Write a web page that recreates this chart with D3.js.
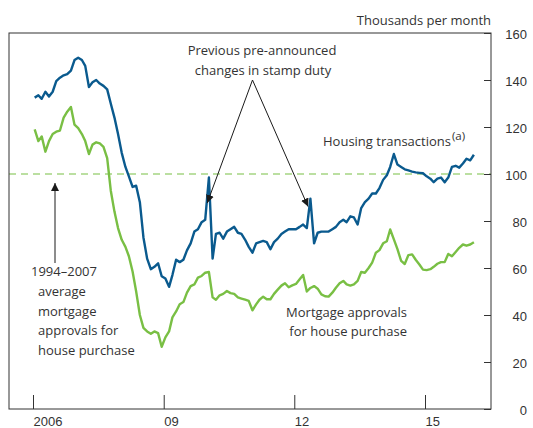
<!DOCTYPE html>
<html>
<head>
<meta charset="utf-8">
<script src="https://cdn.jsdelivr.net/npm/d3@7"></script>
<style>
  body { margin: 0; background: #fff; }
  svg { display: block; font-family: 'Open Sans', sans-serif; }
  text { fill: #333; }
</style>
</head>
<body>
<div id="app"></div>
<script>
// monthly series, Jan 2006 onwards (thousands per month)
const housingTransactions = [
  132.5, 133.5, 132, 135, 133, 135, 139.5, 141, 142, 142.5, 144, 148.5,
  149.5, 148.5, 146, 137, 139, 140, 138.5, 137.5, 136, 130, 124, 117,
  109, 103, 99, 94.5, 95, 88, 73, 64, 59.5, 60.5, 62, 56.5,
  55.5, 52, 57, 63.5, 62.5, 63.5, 67.5, 70.5, 75.5, 76.5, 79.5, 80.5,
  98.5, 64, 74.5, 75, 72.5, 75.5, 76.5, 77.5, 75, 74.5, 72, 69,
  66.5, 70.5, 71, 71.5, 71, 68, 71, 72.5, 74.5, 75.5, 76.5, 76.5,
  76.5, 77.5, 78.5, 77, 89.5, 70.5, 75, 75.5, 75.5, 75.5, 76.5, 77.5,
  79.5, 80.5, 79.5, 82, 81.5, 78.5, 85.5, 88, 89.5, 91.7, 91.7, 94,
  97.5, 99.5, 103, 108.5, 104, 103, 102, 101.5, 101, 100.7, 100.5, 100.3,
  99, 98, 96.5, 98, 98.5, 96.5, 98.5, 103, 103.5, 102.7, 104.5, 106.5,
  105.8, 108.2
];

const mortgageApprovals = [
  119, 114, 116, 109.5, 114, 117, 118, 118.5, 124, 126.5, 128.5, 121,
  119.5, 117, 114, 108.5, 112.5, 113.5, 113, 111.5, 106.8, 93, 84, 77,
  72, 69, 65, 58.5, 50, 40, 34.5, 33, 32, 33, 32.3, 26.5,
  30.5, 33, 39, 41.5, 44.6, 45.5, 49.5, 52.3, 53, 55.9, 56.6, 58,
  58.3, 47.5, 46.5, 48.4, 49, 50.2, 49.3, 49, 47.5, 47, 46.5, 46,
  42, 44.5, 46.5, 47.8, 46.7, 46.7, 49, 50.8, 52.5, 53.5, 51.8, 52.6,
  53.2, 55.2, 57, 50, 51.5, 52.3, 51.2, 48.8, 48, 47.8, 49.5, 51.6,
  53.5, 54.5, 53, 52.5, 53, 54.5, 58.3, 58, 60, 62.3, 66.5, 67.6,
  70.5, 71.4, 76.4, 72.2, 68, 63, 61.7, 65.5, 65.8, 63.5, 61.5, 59.3,
  59.1, 59.5, 60.5, 61.8, 62.5, 62.5, 66, 65, 66.8, 68.6, 70, 69.5,
  70, 71
];

const averageApprovals = 100; // 1994-2007 average
const yearTicks = [2006, 2009, 2012, 2015];
const yearLabels = ['2006', '09', '12', '15'];
const valueTicks = [0, 20, 40, 60, 80, 100, 120, 140, 160];

const width = 533;
const height = 428;
const plotL = 9, plotR = 491, plotT = 33, plotB = 409;

const blue = '#0a5a8e';
const green = '#79bf44';

const svg = d3.select('#app').append('svg')
  .attr('width', width)
  .attr('height', height);

const x = d3.scaleTime()
  .domain([new Date(2006, 0, 1), new Date(2015, 0, 1)])
  .range([33, 425]);

const y = d3.scaleLinear()
  .domain([0, 160])
  .range([plotB, plotT]);

const toPoints = arr => arr.map((v, i) => ({ date: new Date(2006, i, 15), value: v }));

const line = d3.line()
  .x(d => x(d.date))
  .y(d => y(d.value));

// arrow head
svg.append('defs').append('marker')
  .attr('id', 'head')
  .attr('viewBox', '0 0 10 10')
  .attr('refX', 10).attr('refY', 5)
  .attr('markerWidth', 8).attr('markerHeight', 8)
  .attr('markerUnits', 'userSpaceOnUse')
  .attr('orient', 'auto')
  .append('path')
  .attr('d', 'M0,0 L10,5 L0,10 z')
  .attr('fill', '#1a1a1a');

// dashed average line
svg.append('line')
  .attr('x1', plotL).attr('x2', plotR)
  .attr('y1', y(averageApprovals)).attr('y2', y(averageApprovals))
  .attr('stroke', green)
  .attr('stroke-width', 1.2)
  .attr('stroke-dasharray', '7,5');

svg.append('path')
  .datum(toPoints(mortgageApprovals))
  .attr('fill', 'none')
  .attr('stroke', green)
  .attr('stroke-width', 2.4)
  .attr('stroke-linejoin', 'round')
  .attr('d', line);

svg.append('path')
  .datum(toPoints(housingTransactions))
  .attr('fill', 'none')
  .attr('stroke', blue)
  .attr('stroke-width', 2.4)
  .attr('stroke-linejoin', 'round')
  .attr('d', line);

// frame
svg.append('rect')
  .attr('x', plotL).attr('y', plotT)
  .attr('width', plotR - plotL).attr('height', plotB - plotT)
  .attr('fill', 'none')
  .attr('stroke', '#333')
  .attr('stroke-width', 1);

// bottom axis, ticks pointing up into the plot
const xAxis = d3.axisBottom(x)
  .tickValues(yearTicks.map(yr => new Date(yr, 0, 1)))
  .tickFormat((d, i) => yearLabels[i])
  .tickSizeInner(-14)
  .tickSizeOuter(0);

const gx = svg.append('g')
  .attr('transform', `translate(0, ${plotB})`)
  .call(xAxis);
gx.select('.domain').remove();
gx.selectAll('line').attr('stroke', '#333');
gx.selectAll('text')
  .attr('text-anchor', 'start')
  .attr('y', 17)
  .attr('dy', 0)
  .attr('font-size', 13)
  .attr('font-family', null);

// right axis, ticks pointing left, labels right-aligned outside
const yAxis = d3.axisRight(y)
  .tickValues(valueTicks)
  .tickSizeInner(-7)
  .tickSizeOuter(0);

const gy = svg.append('g')
  .attr('transform', `translate(${plotR}, 0)`)
  .call(yAxis);
gy.select('.domain').remove();
gy.selectAll('line').attr('stroke', '#333');
gy.selectAll('text')
  .attr('text-anchor', 'end')
  .attr('x', 36)
  .attr('dy', '0.45em')
  .attr('font-size', 13)
  .attr('font-family', null);

svg.append('text')
  .attr('x', plotR).attr('y', 25)
  .attr('text-anchor', 'end')
  .attr('font-size', 13)
  .text('Thousands per month');

// stamp duty annotation
svg.append('text')
  .attr('x', 262).attr('y', 54.5)
  .attr('text-anchor', 'middle')
  .attr('font-size', 13)
  .text('Previous pre-announced');
svg.append('text')
  .attr('x', 263).attr('y', 74.5)
  .attr('text-anchor', 'middle')
  .attr('font-size', 13)
  .text('changes in stamp duty');

const apex = [252.5, 80];
[new Date(2010, 0, 1), new Date(2012, 3, 25)].forEach((dt, i) => {
  svg.append('line')
    .attr('x1', apex[0]).attr('y1', apex[1])
    .attr('x2', x(dt)).attr('y2', i === 0 ? 203 : 206.5)
    .attr('stroke', '#1a1a1a')
    .attr('stroke-width', 1)
    .attr('marker-end', 'url(#head)');
});

// series label
const ht = svg.append('text')
  .attr('x', 323).attr('y', 146)
  .attr('font-size', 13);
ht.append('tspan').text('Housing transactions');
ht.append('tspan').attr('font-size', 11.5).attr('dy', -6).attr('dx', 1).text('(a)');

const mt = [['Mortgage approvals', 317], ['for house purchase', 336]];
mt.forEach(([t, yy]) => {
  svg.append('text')
    .attr('x', 407).attr('y', yy)
    .attr('text-anchor', 'end')
    .attr('font-size', 13)
    .text(t);
});

// average annotation + arrow
svg.append('line')
  .attr('x1', 55).attr('y1', 263)
  .attr('x2', 55).attr('y2', 183)
  .attr('stroke', '#1a1a1a')
  .attr('stroke-width', 1)
  .attr('marker-end', 'url(#head)');

const avgLines = [['1994–2007', 31, 276], ['average', 38, 296], ['mortgage', 38, 315.5],
  ['approvals for', 38, 335], ['house purchase', 38, 354.5]];
avgLines.forEach(([t, xx, yy]) => {
  svg.append('text')
    .attr('x', xx).attr('y', yy)
    .attr('font-size', 13)
    .text(t);
});
</script>
</body>
</html>
